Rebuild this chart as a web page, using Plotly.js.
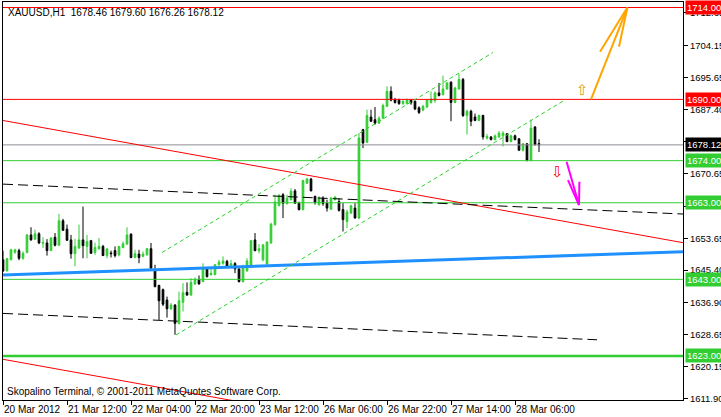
<!DOCTYPE html>
<html>
<head>
<meta charset="utf-8">
<script src="https://cdn.plot.ly/plotly-3.0.1.min.js"></script>
<style>html,body{margin:0;padding:0;background:#fff;}#chart{width:721px;height:417px;}</style>
</head>
<body>
<div id="chart"></div>
<script>
// ---- DATA (XAUUSD, H1) ----
const symbolTitle = "XAUUSD,H1\u00a0 1678.46 1679.60 1676.26 1678.12";
const footerText = "Skopalino Terminal, \u00a9 2001-2011 MetaQuotes Software Corp.";
const xTickBars = [0, 16, 32, 48, 64, 80, 96, 112, 128];
const xTickLabels = ["20 Mar 2012", "21 Mar 12:00", "22 Mar 04:00", "22 Mar 20:00", "23 Mar 12:00",
                     "26 Mar 06:00", "26 Mar 22:00", "27 Mar 14:00", "28 Mar 06:00"];
const yTickValues = [1712.65, 1704.15, 1695.65, 1687.40, 1678.90, 1670.65, 1662.15, 1653.65,
                     1645.40, 1636.90, 1628.65, 1620.15, 1611.90];
const opens = [1648.1,1645.2,1648.1,1650.1,1650.5,1648.5,1650.0,1654.6,1653.5,1654.9,1652.4,1652.5,1650.5,1654.0,1651.9,1658.3,1656.1,1653.3,1649.7,1651.2,
  1653.3,1651.6,1653.1,1650.0,1651.0,1651.6,1649.2,1649.9,1650.5,1649.4,1651.3,1652.2,1654.8,1648.7,1649.6,1649.0,1649.4,1651.0,1645.5,1641.4,
  1640.3,1637.6,1635.3,1636.3,1631.5,1637.0,1639.6,1638.9,1641.8,1642.9,1642.4,1645.7,1644.2,1644.2,1646.8,1647.2,1647.7,1646.1,1647.1,1645.7,
  1642.4,1645.2,1646.4,1653.3,1650.5,1648.1,1647.0,1652.5,1657.3,1662.3,1665.1,1662.8,1663.8,1666.1,1662.9,1661.2,1668.1,1669.2,1664.7,1662.5,
  1664.2,1662.9,1661.3,1663.8,1663.3,1661.2,1658.1,1660.3,1661.6,1659.0,1682.1,1678.8,1685.4,1684.7,1683.8,1685.1,1688.2,1692.1,1689.9,1689.8,
  1688.9,1688.9,1689.8,1689.5,1687.8,1687.2,1688.0,1689.2,1689.7,1691.7,1691.2,1692.7,1694.5,1689.2,1692.7,1695.2,1685.8,1686.9,1685.4,1684.5,
  1685.8,1679.9,1680.2,1679.5,1680.2,1680.5,1681.0,1679.0,1680.5,1679.7,1676.7,1678.4,1674.1,1682.8,1678.46];
const highs = [1650.5,1648.6,1651.0,1651.0,1651.0,1650.3,1654.8,1656.6,1656.0,1655.3,1654.0,1653.5,1654.0,1655.1,1660.1,1658.8,1657.3,1654.6,1653.6,1657.3,
  1662.0,1654.6,1653.3,1652.6,1653.8,1652.0,1651.2,1650.5,1651.6,1651.7,1652.9,1656.6,1655.0,1650.7,1650.7,1650.3,1651.2,1652.5,1646.8,1641.6,
  1640.6,1638.5,1636.8,1636.5,1639.8,1642.0,1642.2,1643.3,1643.5,1644.0,1647.2,1646.1,1645.9,1647.0,1648.1,1649.0,1648.1,1648.1,1647.5,1645.9,
  1646.8,1648.5,1653.3,1655.1,1652.2,1652.2,1653.0,1657.8,1665.1,1665.3,1665.5,1665.1,1666.8,1666.6,1663.3,1669.0,1669.5,1669.5,1664.8,1664.7,
  1664.7,1663.8,1664.5,1664.7,1664.2,1662.9,1661.2,1662.5,1662.9,1681.2,1682.3,1687.3,1687.3,1688.0,1685.6,1688.9,1693.4,1693.4,1690.4,1690.2,
  1689.8,1690.2,1690.1,1689.7,1688.2,1688.6,1690.1,1692.1,1692.1,1694.3,1696.2,1694.5,1694.7,1693.3,1696.7,1695.6,1687.3,1687.3,1686.3,1686.0,
  1686.0,1681.0,1680.4,1680.8,1681.7,1681.7,1681.2,1680.8,1680.8,1679.9,1678.6,1678.6,1684.7,1683.0,1679.60];
const lows = [1644.9,1645.1,1648.0,1649.6,1648.0,1648.1,1649.8,1653.1,1653.3,1652.2,1651.2,1649.2,1650.4,1651.6,1651.8,1655.7,1653.1,1648.4,1646.4,1650.9,
  1648.5,1648.5,1649.7,1649.4,1650.7,1649.1,1648.5,1648.7,1648.7,1649.0,1651.1,1652.0,1648.5,1648.5,1647.2,1648.8,1649.2,1645.9,1640.9,1632.4,
  1636.0,1633.0,1635.0,1628.5,1631.2,1634.6,1638.7,1638.7,1641.5,1641.6,1642.3,1643.5,1644.0,1644.1,1646.6,1646.8,1646.1,1645.9,1644.6,1642.2,
  1642.2,1645.0,1646.3,1650.3,1649.8,1647.7,1646.8,1652.3,1657.0,1662.0,1659.0,1662.5,1663.6,1662.7,1661.0,1661.0,1667.9,1666.0,1662.5,1662.2,
  1662.2,1660.7,1661.2,1663.6,1660.7,1655.5,1656.4,1660.1,1658.9,1658.7,1677.3,1678.6,1684.1,1683.4,1683.6,1684.9,1688.0,1689.5,1688.9,1688.6,
  1688.6,1688.7,1688.6,1687.2,1686.2,1686.9,1687.8,1688.9,1689.1,1690.8,1691.1,1692.6,1684.3,1689.1,1692.6,1685.4,1680.8,1683.0,1684.3,1684.3,
  1679.5,1679.5,1679.3,1679.3,1679.9,1677.7,1678.8,1678.8,1679.3,1676.7,1676.4,1673.8,1673.8,1677.9,1676.26];
const closes = [1645.2,1648.4,1650.7,1650.7,1648.5,1649.8,1654.6,1653.3,1654.9,1652.5,1652.6,1650.5,1653.8,1651.9,1658.3,1655.8,1653.2,1649.7,1651.6,1653.3,
  1651.8,1652.9,1649.8,1651.3,1651.6,1649.2,1650.9,1649.7,1649.2,1651.6,1652.3,1654.6,1648.7,1649.7,1648.7,1649.6,1651.0,1645.9,1641.1,1637.4,
  1636.5,1635.3,1636.3,1631.5,1637.4,1639.5,1638.9,1642.2,1643.0,1641.8,1645.9,1643.7,1644.6,1646.8,1647.5,1647.8,1646.4,1647.1,1645.7,1642.4,
  1645.9,1647.8,1653.1,1650.5,1651.0,1652.0,1652.7,1657.4,1663.2,1664.9,1662.9,1664.2,1666.0,1662.9,1661.2,1668.8,1669.2,1666.1,1663.1,1664.2,
  1662.8,1661.6,1664.2,1664.5,1661.0,1658.6,1660.6,1662.2,1659.0,1679.9,1678.6,1685.8,1684.3,1683.8,1685.1,1688.4,1692.1,1689.8,1689.2,1688.9,
  1689.5,1689.8,1689.1,1687.5,1686.6,1688.2,1689.8,1690.1,1691.7,1691.0,1692.7,1694.3,1689.2,1693.0,1695.2,1685.8,1686.9,1684.3,1684.5,1685.8,
  1680.2,1680.3,1679.5,1680.5,1681.2,1681.2,1679.0,1680.5,1679.5,1676.7,1678.4,1674.1,1682.5,1678.2,1678.12];

// horizontal levels
const resistanceLevels = [1714.00, 1690.00];
const supportLevels = [1674.00, 1663.00, 1643.00];
const majorSupport = [1623.00];
const bidPrice = 1678.12;

// drawn objects as [bar index, price] pairs
const redTrendUpper = [[0, 1684.49], [170, 1652.57]];
const redTrendLower = [[0, 1622.11], [170, 1590.19]];
const blueTrend = [[0, 1644.16], [170, 1650.22]];
const dashUpper = [[0, 1667.87], [170, 1660.06]];
const dashLower = [[0, 1634.10], [148.5, 1627.21]];
const channelUpper = [[39.75, 1650.01], [122.5, 1702.25]];
const channelLower = [[43.25, 1628.46], [140.75, 1690.02]];
const orangeArrow = [[[147, 1690.0], [156.1, 1714.0]], [[149.25, 1702.45], [156.1, 1714.0]], [[154, 1703.76], [156.1, 1714.0]]];
const magentaArrow = [[[140.9, 1673.7], [144, 1662.4]], [[141.25, 1668.9], [144, 1662.4]], [[144.1, 1668.5], [144, 1662.4]]];
const upMarker = [144.9, 1692.45];
const downMarker = [138.6, 1671.1];

// ---- CHART ----
const bars = opens.map((_, i) => i);
const GREEN = "#32CD32", RED = "#FF0000";

const trace = {
  type: "candlestick",
  x: bars, open: opens, high: highs, low: lows, close: closes,
  increasing: {line: {color: GREEN, width: 1}, fillcolor: GREEN},
  decreasing: {line: {color: "#000000", width: 1}, fillcolor: "#000000"},
  whiskerwidth: 0,
  hoverinfo: "skip",
  showlegend: false
};

const shapes = [];
function hline(y, color, width) {
  shapes.push({type: "line", xref: "paper", x0: 0, x1: 1, yref: "y", y0: y, y1: y,
               line: {color: color, width: width}, layer: "above"});
}
function seg(pts, color, width, dash) {
  shapes.push({type: "line", xref: "x", yref: "y", x0: pts[0][0], y0: pts[0][1], x1: pts[1][0], y1: pts[1][1],
               line: {color: color, width: width, dash: dash || "solid"}, layer: "above"});
}
hline(bidPrice, "#8C8C96", 1);
resistanceLevels.forEach(v => hline(v, RED, 1));
supportLevels.forEach(v => hline(v, GREEN, 1));
majorSupport.forEach(v => hline(v, GREEN, 2.5));
seg(redTrendUpper, RED, 1);
seg(redTrendLower, RED, 1);
seg(blueTrend, "#1E90FF", 3);
seg(dashUpper, "#000000", 1, "10px,5px");
seg(dashLower, "#000000", 1, "10px,5px");
seg(channelUpper, GREEN, 1, "4px,3px");
seg(channelLower, GREEN, 1, "4px,3px");
orangeArrow.forEach(p => seg(p, "#FFA500", 2));
magentaArrow.forEach(p => seg(p, "#FF00FF", 2));

const FONT = "Liberation Sans, Arial, sans-serif";
const annotations = [];
function priceTag(v, bg) {
  annotations.push({xref: "paper", x: 1, xanchor: "left", xshift: 2, yref: "y", y: v, yanchor: "middle",
    text: v.toFixed(2), showarrow: false, bgcolor: bg, borderpad: 1,
    font: {family: FONT, size: 9.5, color: "#ffffff"}});
}
resistanceLevels.forEach(v => priceTag(v, RED));
priceTag(bidPrice, "#000000");
supportLevels.forEach(v => priceTag(v, GREEN));
majorSupport.forEach(v => priceTag(v, GREEN));

annotations.push({xref: "paper", yref: "paper", x: 0, y: 1, xanchor: "left", yanchor: "top", xshift: 3, yshift: -3,
  text: symbolTitle, showarrow: false, font: {family: FONT, size: 10, color: "#000"}});
annotations.push({xref: "paper", yref: "paper", x: 0, y: 0, xanchor: "left", yanchor: "bottom", xshift: 2, yshift: 1,
  text: footerText, showarrow: false, font: {family: FONT, size: 10, color: "#000"}});
annotations.push({xref: "x", yref: "y", x: upMarker[0], y: upMarker[1], text: "\u21E7", showarrow: false,
  font: {family: "DejaVu Sans", size: 15, color: "#E0A000"}});
annotations.push({xref: "x", yref: "y", x: downMarker[0], y: downMarker[1], text: "\u21E9", showarrow: false,
  font: {family: "DejaVu Sans", size: 15, color: RED}});

const layout = {
  width: 721, height: 417,
  margin: {l: 3, r: 38, t: 2, b: 17, pad: 0},
  paper_bgcolor: "#ffffff", plot_bgcolor: "#ffffff",
  boxgap: 0.4,
  showlegend: false,
  hovermode: false,
  xaxis: {
    range: [0, 170], rangeslider: {visible: false},
    tickmode: "array", tickvals: xTickBars, ticktext: xTickLabels,
    ticks: "outside", ticklen: 4, tickcolor: "#000", tickwidth: 1,
    ticklabelposition: "outside right", tickangle: 0,
    showgrid: false, zeroline: false, automargin: false,
    showline: true, mirror: true, linecolor: "#000", linewidth: 1,
    tickfont: {family: FONT, size: 10, color: "#000"}, fixedrange: true
  },
  yaxis: {
    side: "right",
    range: [1611.48, 1715.44],
    tickmode: "array", tickvals: yTickValues, ticktext: yTickValues.map(v => v.toFixed(2)),
    ticks: "outside", ticklen: 4, tickcolor: "#000", tickwidth: 1,
    showgrid: false, zeroline: false, automargin: false,
    showline: true, mirror: true, linecolor: "#000", linewidth: 1,
    tickfont: {family: FONT, size: 9.5, color: "#000"}, fixedrange: true
  },
  shapes: shapes,
  annotations: annotations
};

Plotly.newPlot("chart", [trace], layout, {staticPlot: true, displayModeBar: false});
</script>
</body>
</html>
